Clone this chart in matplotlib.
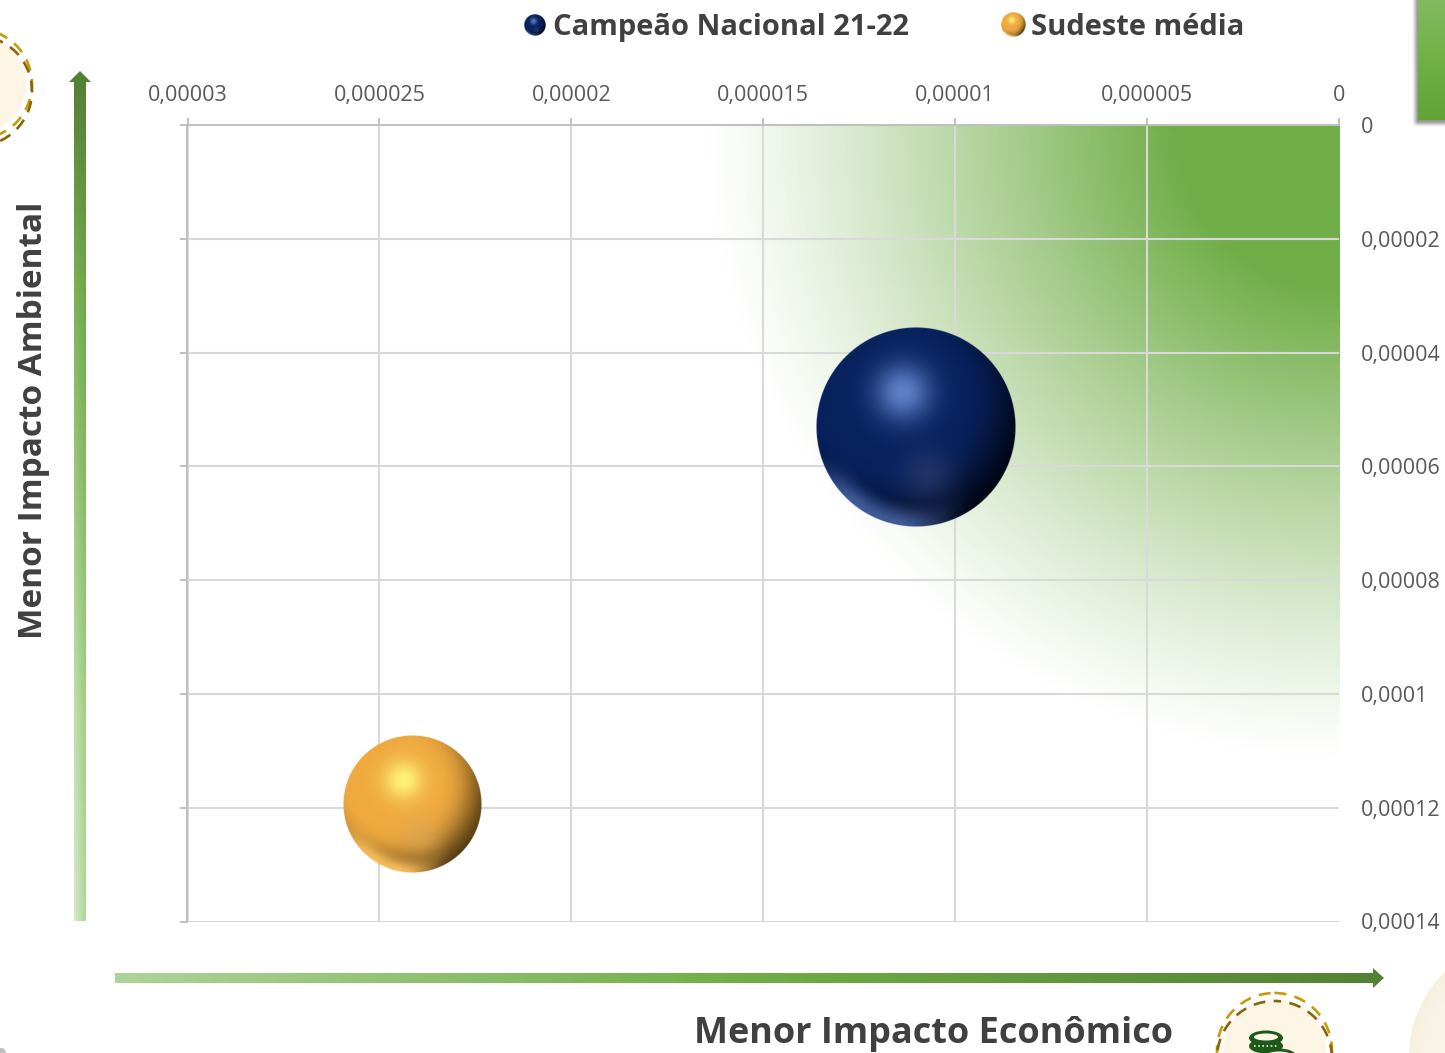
import matplotlib
matplotlib.use('Agg')
import matplotlib.pyplot as plt
from matplotlib.patches import Circle, Polygon, Ellipse
from matplotlib.colors import LinearSegmentedColormap
import numpy as np

plt.rcParams['font.family'] = ['Open Sans', 'DejaVu Sans']

W, H = 1445, 1053

# dados
series = ['Campeão Nacional 21-22', 'Sudeste média']
x_vals = [1.102e-05, 2.414e-05]
y_vals = [5.31e-05, 1.194e-04]
radius_px = [100, 69]

x_ticks = [0.00003, 0.000025, 0.00002, 0.000015, 0.00001, 0.000005, 0]
x_labels = ['0,00003', '0,000025', '0,00002', '0,000015', '0,00001', '0,000005', '0']
y_ticks = [0, 0.00002, 0.00004, 0.00006, 0.00008, 0.0001, 0.00012, 0.00014]
y_labels = ['0', '0,00002', '0,00004', '0,00006', '0,00008', '0,0001', '0,00012', '0,00014']

blue_pal = ('#08225e', '#5f80c8', '#2f3f70', '#00030f', '#3f5a98')
gold_pal = ('#efa93f', '#fff27a', '#d9a656', '#4a3410', '#f5bc5c')


def hex2rgb(c):
    return np.array(matplotlib.colors.to_rgb(c))


def smooth(t):
    t = np.clip(t, 0, 1)
    return t * t * (3 - 2 * t)


def sphere(n, pal):
    base, hi, low, dark, rim = [hex2rgb(c) for c in pal]
    yy, xx = np.mgrid[-1:1:n * 1j, -1:1:n * 1j]
    r = np.sqrt(xx ** 2 + yy ** 2)
    img = np.ones((n, n, 3)) * base
    # sombra para baixo e para a direita
    d = smooth((np.sqrt((xx + 0.25) ** 2 + (yy + 0.3) ** 2) - 0.6) / 0.9) ** 1.4
    img = img * (1 - d[..., None]) + dark * d[..., None]
    # reflexo de baixo
    e = smooth((r - 0.72) / 0.26) * smooth((yy - 0.25) / 0.5) * smooth((0.6 - xx) / 0.8)
    img = img * (1 - e[..., None]) + rim * e[..., None]
    s = np.exp(-((xx - 0.12) ** 2 + (yy - 0.48) ** 2) / 0.07) * 0.6
    img = img * (1 - s[..., None]) + low * s[..., None]
    h = np.exp(-((xx + 0.13) ** 2 + (yy + 0.35) ** 2) / 0.08)
    img = img * (1 - h[..., None]) + hi * h[..., None]
    a = np.clip((1 - r) * n / 2, 0, 1)
    return np.dstack([img, a])


def grad_img(ax, colors, extent, vertical):
    cm = LinearSegmentedColormap.from_list('g', colors)
    g = np.linspace(0, 1, 256)
    g = g[:, None] if vertical else g[None, :]
    ax.imshow(g, cmap=cm, extent=extent, aspect='auto', zorder=2, origin='upper')


def dashed(ax, cx, cy, r, shift):
    ax.add_patch(Circle((cx, cy), r - 6, fc='#fef6e5', ec='none', zorder=1))
    ax.add_patch(Circle((cx, cy), r, fc='none', ec='#c79a0a', lw=1.9, ls=(0, (4.5, 3.2)), zorder=2))
    ax.add_patch(Circle((cx, cy + shift), r, fc='none', ec='#8a6508', lw=1.9, ls=(2, (4.5, 3.2)), zorder=2))


fig = plt.figure(figsize=(W / 100, H / 100), dpi=100, facecolor='white')

# camada de fundo em pixels
bg = fig.add_axes([0, 0, 1, 1], zorder=0)
bg.axis('off')

dashed(bg, -23, 84, 55, 7)
dashed(bg, 1274.5, 1050.5, 57.5, 8)

# moedas
dk = '#1d5a1a'
bg.add_patch(Ellipse((1266, 1046), 34, 15, fc=dk, ec='none', zorder=3))
bg.add_patch(Ellipse((1266, 1038), 34, 15, fc=dk, ec='none', zorder=3))
bg.add_patch(Ellipse((1266, 1037), 24, 7, fc='#fef6e5', ec='none', zorder=4))
bg.plot([1254, 1278], [1046, 1046], color='#e8f0d8', lw=1.2, ls=(0, (1, 1.5)), zorder=4)
bg.add_patch(Ellipse((1279, 1056), 34, 15, fc=dk, ec='none', zorder=3))
bg.add_patch(Ellipse((1279, 1055), 24, 7, fc='#fef6e5', ec='none', zorder=4))

# circulo grande em baixo a direita
yy, xx = np.mgrid[960:1053, 1400:1445]
rr = np.hypot(xx - 1526, yy - 1056)
tone = np.clip((118 - rr) / 60, 0, 1)[..., None]
cream = hex2rgb('#f6f0e0') * (1 - tone) + hex2rgb('#fdf9ef') * tone
bg.imshow(np.dstack([cream, np.clip(118 - rr, 0, 1)]),
          extent=(1400, 1445, 1053, 960), aspect='auto', zorder=1)
# mancha em baixo a esquerda
bg.add_patch(Circle((1, 1053), 5, fc='#b0b0b0', ec='none', alpha=0.8))

# caixa verde em cima a direita com sombra suave
yy, xx = np.mgrid[0:132, 1408:1445]
sh = smooth((xx - 1411) / 7.0) * smooth((127 - yy) / 7.0) * 0.55
bg.imshow(np.dstack([np.ones(xx.shape + (3,)) * 0.25, sh]),
          extent=(1408, 1445, 132, 0), aspect='auto', zorder=1)
grad_img(bg, ['#82ba62', '#70b044', '#62a335'], (1418, 1445, 120, 0), True)

# setas
grad_img(bg, ['#548235', '#6ea945', '#85bd62', '#a2cf86', '#b0d89a'], (74, 86, 921, 82), True)
pale = np.zeros((200, 12, 4))
pale[..., :3] = 1
pale[..., 3] = np.linspace(0, 0.45, 200)[:, None] * np.linspace(1, 0, 12)[None, :]
bg.imshow(pale, extent=(74, 86, 921, 82), aspect='auto', zorder=2.1)
bg.add_patch(Polygon([(80, 71), (69, 82), (91, 82)], fc='#548235', ec='none', zorder=2))
grad_img(bg, ['#aed49a', '#70ad47', '#548235'], (115, 1373, 983, 973), False)
bg.add_patch(Polygon([(1384, 978), (1373, 968), (1373, 988)], fc='#548235', ec='none', zorder=2))
bg.set_xlim(0, W)
bg.set_ylim(H, 0)

# grafico
left, right, top, bottom = 187.5, 1339, 125, 921.5
ax = fig.add_axes([left / W, 1 - bottom / H, (right - left) / W, (bottom - top) / H], zorder=1)
ax.patch.set_alpha(0)
ax.set_xticks(x_ticks)
ax.set_xticklabels(x_labels)
ax.set_yticks(y_ticks)
ax.set_yticklabels(y_labels)
ax.tick_params(axis='x', top=True, bottom=False, labeltop=True, labelbottom=False,
               length=5, width=1.4, color='#bfbfbf', labelcolor='#595959', labelsize=15.5, pad=9)
ax.tick_params(axis='y', left=True, right=False, labelleft=False, labelright=True,
               length=5, width=1.4, color='#bfbfbf', labelcolor='#595959', labelsize=15.5, pad=10.5)
ax.grid(True, color='#d9d9d9', lw=1.5)
ax.set_axisbelow(True)
ax.xaxis.get_gridlines()[-1].set_visible(False)
for s in ['right', 'bottom']:
    ax.spines[s].set_visible(False)
for s in ['left', 'top']:
    ax.spines[s].set_color('#bfbfbf')
    ax.spines[s].set_linewidth(1.4)

# gradiente verde do canto superior direito
yy, xx = np.mgrid[0:796, 0:1152]
dist = np.hypot(xx - 1152, yy)
alpha = np.clip((635 - dist) / (635 - 165), 0, 1) ** 1.15
green = np.dstack([np.ones(xx.shape) * 0x70 / 255, np.ones(xx.shape) * 0xad / 255,
                   np.ones(xx.shape) * 0x47 / 255, alpha])
ax.imshow(green, extent=(x_ticks[0], x_ticks[-1], y_ticks[-1], y_ticks[0]),
          origin='upper', aspect='auto', zorder=0.5)

# bolhas
px_x = (x_ticks[0] - x_ticks[-1]) / (right - left)
px_y = (y_ticks[-1] - y_ticks[0]) / (bottom - top)
for xv, yv, r, pal in zip(x_vals, y_vals, radius_px, [blue_pal, gold_pal]):
    ax.imshow(sphere(2 * r * 2, pal), origin='upper', aspect='auto', zorder=5,
              extent=(xv + r * px_x, xv - r * px_x, yv + r * px_y, yv - r * px_y))
ax.set_xlim(x_ticks[0], x_ticks[-1])
ax.set_ylim(y_ticks[-1], y_ticks[0])

# legenda e titulos dos eixos, por cima
fg = fig.add_axes([0, 0, 1, 1], zorder=2)
fg.axis('off')
for cx, r, pal, tx, name in [(535, 11, blue_pal, 553, series[0]), (1013, 12.5, gold_pal, 1031, series[1])]:
    fg.imshow(sphere(80, pal), extent=(cx - r, cx + r, 25 + r, 25 - r), aspect='auto', zorder=3)
    fg.text(tx, 35, name, fontsize=21, fontweight='bold', color='#404040', va='baseline', ha='left')
fg.set_xlim(0, W)
fg.set_ylim(H, 0)
fg.text(34, 420, 'Menor Impacto Ambiental', rotation=90, fontsize=24, fontweight='bold',
        color='#404040', va='center', ha='center')
fg.text(934, 1033.5, 'Menor Impacto Econômico', fontsize=25.9, fontweight='bold',
        color='#404040', va='center', ha='center')

fig.savefig('out.png', dpi=100)
